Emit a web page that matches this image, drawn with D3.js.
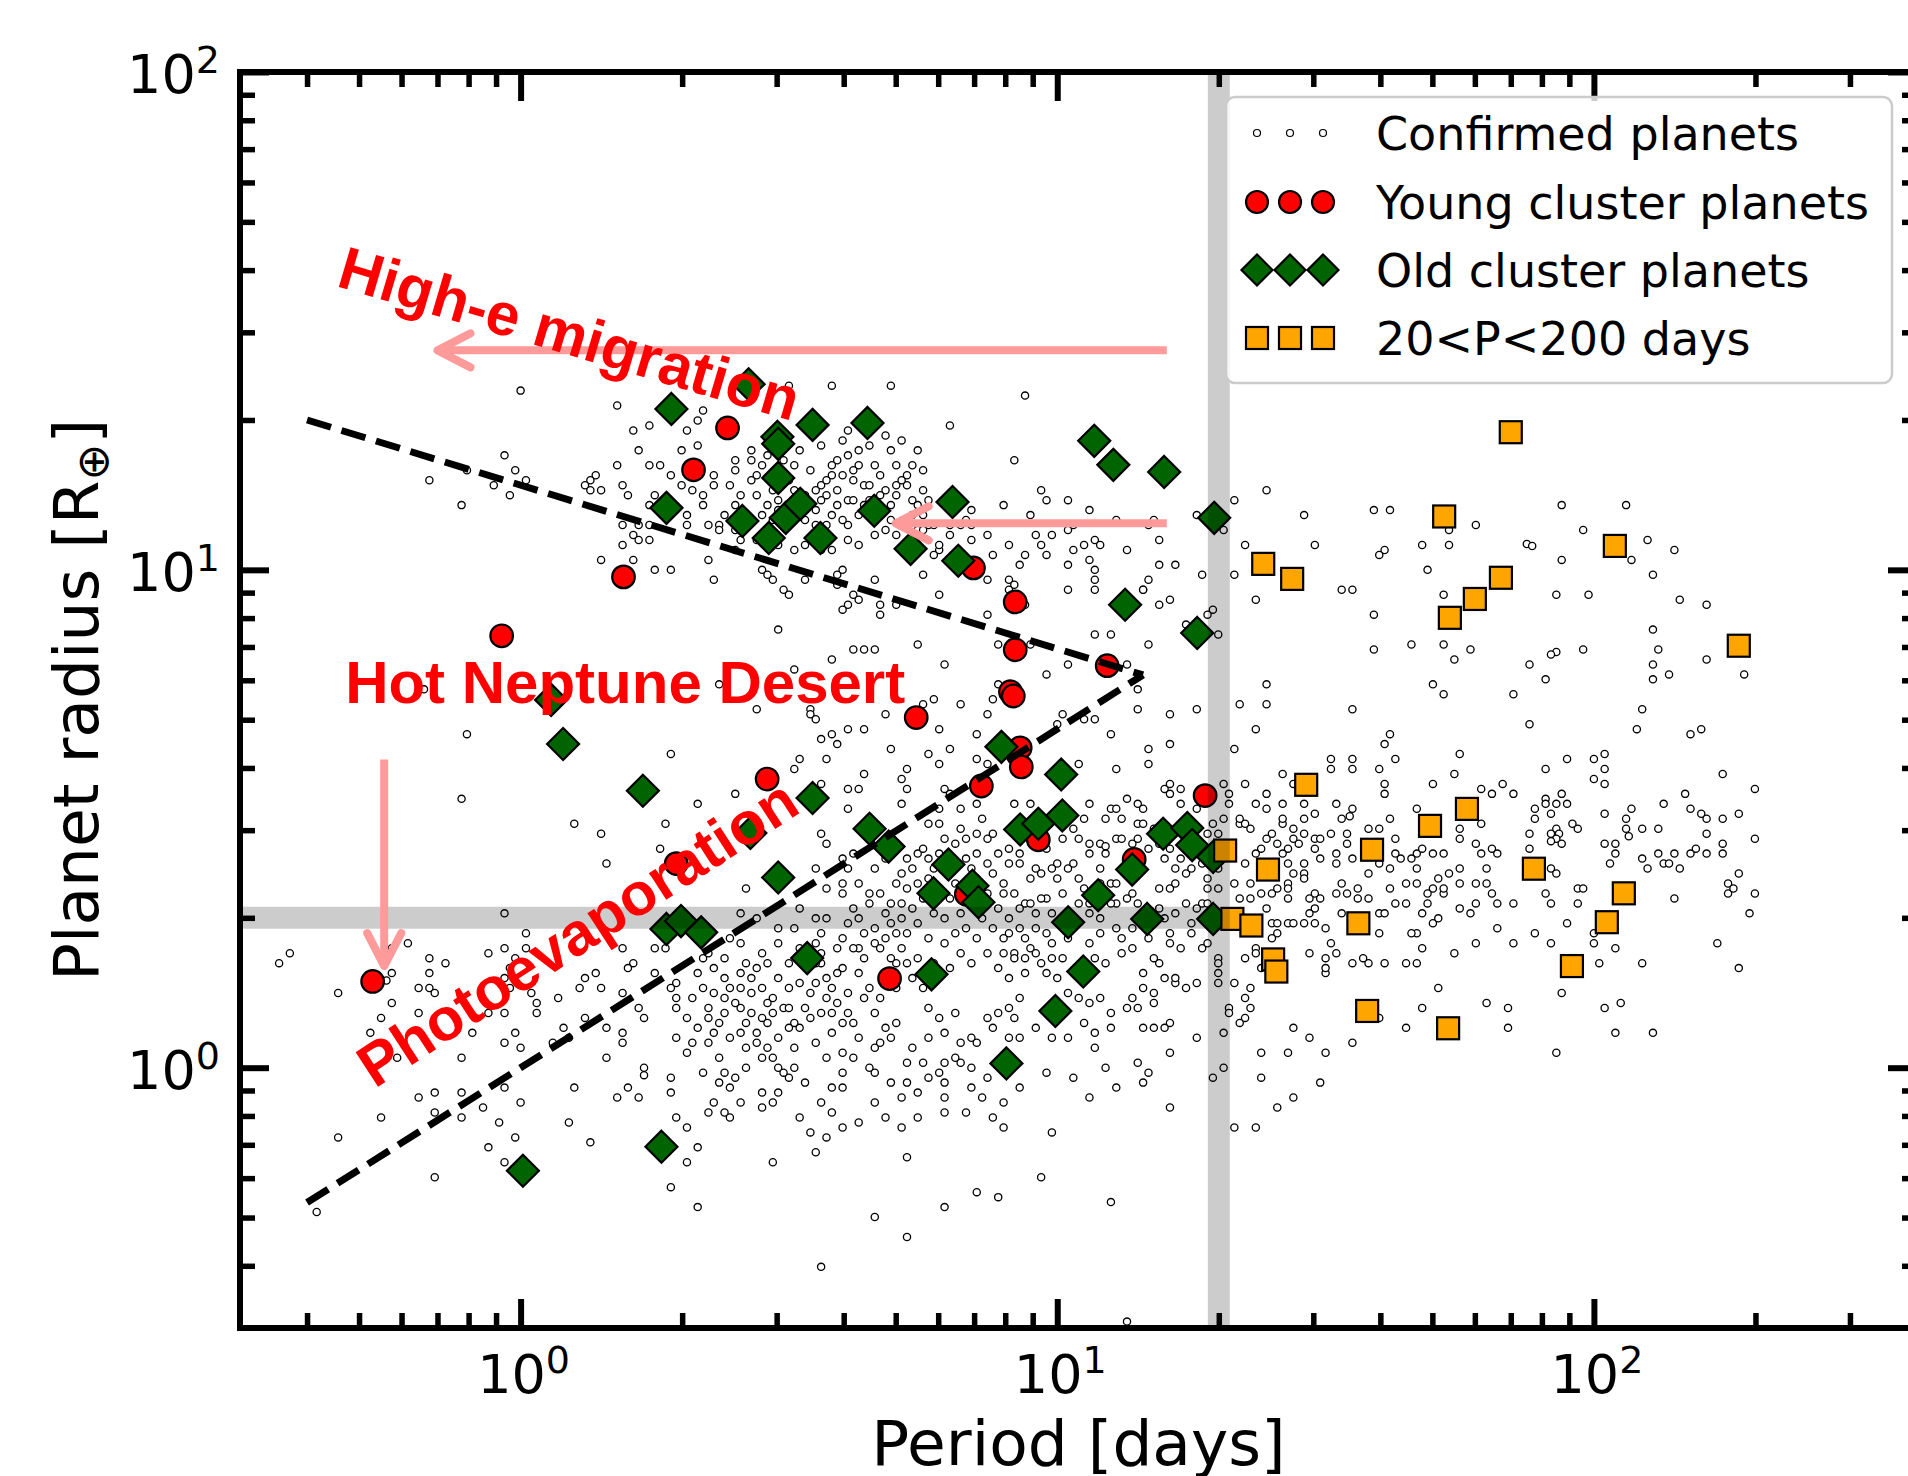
<!DOCTYPE html>
<html><head><meta charset="utf-8">
<script src="https://cdn.jsdelivr.net/npm/d3@7/dist/d3.min.js"></script>
<style>html,body{margin:0;padding:0;background:#fff;}svg{display:block;}</style>
</head><body>
<svg id="chart" width="1908" height="1476"></svg>
<script>
// ---------------- data ----------------
const xDomain = [0.3, 400];
const yDomain = [0.3, 100];
const xMajorTicks = [1, 10, 100];
const xMinorTicks = [0.4,0.5,0.6,0.7,0.8,0.9,2,3,4,5,6,7,8,9,20,30,40,50,60,70,80,90,200,300];
const yMajorTicks = [1, 10, 100];
const yMinorTicks = [0.4,0.5,0.6,0.7,0.8,0.9,2,3,4,5,6,7,8,9,20,30,40,50,60,70,80,90];
const tickExponents = ["0", "1", "2"];

const youngPeriod = [0.530,1.95,4.87,2.88,5.46,0.922,1.555,2.10,2.43,6.98,8.35,8.35,8.18,8.28,8.53,8.57,7.22,9.22,12.39,18.86,13.91,6.77];
const youngRadius = [1.49,2.57,1.51,3.80,5.05,7.37,9.68,15.88,19.28,10.09,8.62,6.91,5.69,5.58,4.39,4.02,3.68,2.87,6.42,3.52,2.62,2.23];

const oldPeriod = [2.66,1.91,3.50,4.43,3.01,3.02,3.02,11.72,12.72,1.87,2.59,3.12,3.32,2.90,3.62,4.56,6.38,5.33,6.54,15.82,19.61,13.38,18.23,1.14,1.20,7.87,10.17,1.69,3.50,2.68,4.47,4.85,8.53,9.22,10.22,3.02,6.27,5.88,6.95,7.13,13.79,11.92,1.87,1.99,2.17,10.48,3.42,5.83,11.18,9.92,8.04,1.83,1.01,15.75,17.47,17.84,19.52,14.71,19.52];
const oldRadius = [23.6,21.05,19.55,19.73,18.50,17.91,15.30,18.16,16.25,13.32,12.54,12.72,13.57,11.59,11.59,13.14,13.69,11.02,10.43,15.73,12.72,8.51,7.47,5.48,4.47,4.41,3.88,3.60,3.48,2.96,3.02,2.78,3.01,3.09,3.21,2.41,2.56,2.24,2.32,2.15,2.50,2.22,1.90,1.97,1.87,1.96,1.66,1.54,1.56,1.30,1.02,0.694,0.621,2.95,3.03,2.80,2.65,1.99,1.99];

const longPeriod = [70.0,52.6,24.2,27.4,67.1,60.0,53.9,109.4,186.2,29.1,20.55,24.7,38.6,49.5,58.0,21.2,23.0,36.4,25.25,25.6,37.8,53.5,77.3,113.7,105.7,91.0];
const longRadius = [18.9,12.8,10.28,9.59,9.64,8.74,8.01,11.17,7.04,3.70,2.73,2.50,2.74,3.06,3.31,1.99,1.93,1.95,1.65,1.56,1.30,1.20,2.51,2.24,1.96,1.60];

// confirmed planets as [log10(P/day), log10(R/R_earth)]
const confirmedLog = [
[0.00,1.36],[0.18,1.33],[0.50,1.37],[0.58,1.37],[0.69,1.37],[0.94,1.35],[0.80,1.29],[0.92,1.22],[0.21,1.28],[0.24,1.29],[0.22,1.24],[0.31,1.28],[0.33,1.25],[0.34,1.32],[0.30,1.24],[0.33,1.30],[0.24,1.21],[0.26,1.21],[0.18,1.21],[0.14,1.19],[0.13,1.18],[0.12,1.17],[0.13,1.16],[0.15,1.16],[0.19,1.17],[0.20,1.15],[0.25,1.15],[0.28,1.19],[0.30,1.17],[0.32,1.16],[0.36,1.19],[0.36,1.17],[0.34,1.15],[0.40,1.22],[0.43,1.22],[0.40,1.20],[0.43,1.24],[0.46,1.23],[0.45,1.21],[0.49,1.22],[0.51,1.21],[0.52,1.24],[0.56,1.25],[0.60,1.26],[0.61,1.28],[0.65,1.25],[0.68,1.27],[0.69,1.24],[0.71,1.26],[0.74,1.24],[0.70,1.21],[0.73,1.21],[0.75,1.20],[0.59,1.22],[0.61,1.23],[0.63,1.21],[0.62,1.20],[0.60,1.19],[0.58,1.19],[0.56,1.17],[0.55,1.16],[0.53,1.15],[0.57,1.15],[0.59,1.16],[0.62,1.18],[0.64,1.17],[0.67,1.19],[0.68,1.16],[0.70,1.17],[0.72,1.19],[0.72,1.17],[0.70,1.15],[0.69,1.13],[0.73,1.14],[0.75,1.16],[0.65,1.14],[0.61,1.14],[0.59,1.13],[0.64,1.13],[0.63,1.11],[0.61,1.09],[0.58,1.11],[0.57,1.09],[0.55,1.09],[0.53,1.10],[0.51,1.11],[0.48,1.12],[0.47,1.10],[0.45,1.11],[0.46,1.13],[0.44,1.15],[0.41,1.15],[0.40,1.13],[0.38,1.11],[0.37,1.09],[0.37,1.08],[0.40,1.08],[0.35,1.09],[0.34,1.13],[0.31,1.09],[0.31,1.11],[0.24,1.13],[0.24,1.09],[0.22,1.09],[0.19,1.09],[0.21,1.07],[0.19,1.05],[0.22,1.06],[0.24,1.06],[0.21,1.02],[0.15,1.02],[0.25,1.00],[0.28,1.00],[0.36,0.98],[0.35,1.02],[0.40,1.04],[0.41,1.06],[0.44,1.06],[0.48,1.05],[0.51,1.04],[0.53,1.05],[0.56,1.04],[0.58,1.04],[0.61,1.06],[0.63,1.05],[0.66,1.07],[0.68,1.08],[0.70,1.07],[0.74,1.08],[0.76,1.09],[0.78,1.04],[0.80,1.09],[0.82,1.09],[0.84,1.09],[0.84,1.06],[0.87,1.07],[0.88,1.03],[0.91,1.05],[0.94,1.03],[0.93,1.01],[0.97,1.16],[0.98,1.14],[0.95,1.11],[1.02,1.14],[1.06,1.12],[1.11,1.10],[0.96,1.07],[0.99,1.07],[0.97,1.05],[0.98,1.03],[1.02,1.08],[1.03,1.09],[1.03,1.04],[1.05,1.05],[1.07,1.06],[1.08,1.05],[1.13,1.04],[1.02,1.01],[1.06,1.02],[1.07,1.00],[1.07,0.98],[1.02,0.96],[0.90,1.13],[0.84,1.12],[0.83,1.10],[0.80,1.07],[0.78,1.05],[0.77,1.09],[0.75,1.11],[0.74,1.13],[0.72,1.09],[0.75,1.08],[0.74,1.05],[0.77,1.03],
[0.39,1.17],[0.42,1.10],[0.43,1.18],[0.47,1.16],[0.49,1.09],[0.50,1.18],[0.52,1.13],[0.54,1.20],[0.55,1.12],[0.57,1.18],[0.60,1.10],[0.62,1.14],[0.63,1.24],[0.66,1.11],[0.66,1.21],[0.67,1.15],[0.69,1.10],[0.71,1.18],[0.73,1.11],[0.76,1.14],[0.44,1.19],[0.48,1.14],[0.51,1.16],[0.56,1.14],[0.58,1.21],[0.65,1.17],
[0.45,1.00],[0.46,0.99],[0.47,0.98],[0.49,0.96],[0.50,0.95],[0.53,0.98],[0.59,0.99],[0.60,1.00],[0.59,0.97],[0.62,0.95],[0.61,0.93],[0.60,0.92],[0.63,0.94],[0.66,0.98],[0.67,0.93],[0.67,0.91],[0.70,0.93],[0.75,0.99],[0.78,0.95],[0.87,0.98],[0.87,0.91],[0.91,0.98],[0.92,0.97],[0.91,0.96],[0.94,0.93],[0.89,0.85],[0.92,0.85],[0.95,0.85],[1.07,0.87],[1.10,0.87],[1.02,0.81],[0.98,0.79],[0.79,0.81],[0.74,0.85],[0.66,0.84],[0.64,0.84],[0.62,0.84],[0.58,0.82],[0.51,0.80],[0.48,0.88],[0.37,0.77],[0.44,0.72],[0.54,0.72],[0.54,0.71],[0.55,0.70],[0.56,0.66],[0.58,0.67],[0.61,0.68],[0.64,0.68],[0.64,0.59],[0.69,0.64],[0.72,0.60],[0.71,0.58],[0.76,0.63],[0.78,0.61],[0.79,0.56],[0.78,0.68],[0.82,0.73],[0.77,0.74],[0.87,0.71],[0.87,0.61],[0.85,0.62],[0.85,0.67],[0.88,0.74],[0.89,0.77],[1.00,0.69],[1.01,0.71],[1.05,0.70],[1.07,0.70],[1.10,0.67],[1.11,0.60],[1.04,0.61],[1.15,0.76],[1.15,0.72],[1.13,0.81],[0.28,0.63],[0.51,0.60],[0.52,0.62],[0.57,0.62],[0.56,0.57],[0.61,0.56],[0.63,0.56],[0.59,0.65],[0.40,0.55],[-0.17,1.18],[-0.11,1.13],[-0.03,1.23],[-0.01,1.20],[-0.05,1.17],[-0.02,1.15],[0.01,1.18],[-0.10,1.20],[0.68,0.71],[0.75,0.73],[0.80,0.64],[0.80,0.55],[0.72,0.56],[1.07,0.96],[1.16,0.96],[-0.18,0.76],[-0.10,0.67],
[-0.11,0.54],[0.10,0.49],[0.15,0.47],[0.27,0.49],[0.26,0.44],[0.16,0.41],[0.33,0.53],[-0.03,0.31],[-0.21,0.25],[-0.24,0.24],[-0.24,0.19],[-0.25,0.175],[-0.45,0.21],[-0.43,0.23],[-0.34,0.15],[-0.26,0.10],[-0.28,0.07],[-0.24,0.13],[-0.19,0.16],[-0.17,0.19],[-0.17,0.22],[-0.14,0.21],[-0.17,0.16],[-0.16,0.15],[-0.19,0.11],[-0.23,0.02],[-0.11,0.02],[-0.09,0.07],[-0.06,0.11],[-0.03,0.11],[-0.06,0.23],[-0.03,0.24],[0.01,0.27],[0.01,0.24],[-0.01,0.22],[-0.02,0.20],[-0.03,0.18],[-0.02,0.16],[0.02,0.15],[0.03,0.13],[0.03,0.11],[-0.01,0.07],[-0.03,0.05],[0.00,0.04],[0.07,0.14],[0.11,0.16],[0.12,0.18],[0.14,0.19],[0.08,0.08],[0.12,0.10],[0.09,0.06],[0.06,0.05],[0.15,0.16],[0.19,0.24],[0.21,0.21],[0.20,0.20],[0.19,0.15],[0.22,0.12],[0.23,0.10],[0.16,0.08],[0.19,0.07],[0.19,0.05],[0.16,0.02],[0.25,0.24],[0.27,0.24],[0.25,0.19],[0.29,0.17],[0.28,0.16],[0.29,0.14],[0.29,0.12],[0.31,0.10],[0.29,0.06],[0.32,0.05],[0.23,0.00],[0.23,-0.015],[0.28,-0.02],[0.28,-0.05],[0.22,-0.06],[0.20,-0.04],[0.18,-0.06],[0.09,-0.11],[0.10,-0.04],[0.13,-0.15],[-0.01,-0.14],[0.00,-0.07],[-0.03,-0.19],[-0.06,-0.16],[-0.04,-0.11],[-0.07,-0.08],[-0.11,-0.10],[-0.11,-0.05],[-0.16,-0.09],[-0.16,-0.22],[-0.19,-0.06],[-0.16,-0.05],[-0.26,-0.10],[-0.34,-0.14],[-0.38,-0.29],[-0.03,-0.04],[0.28,-0.24],[0.31,-0.19],[0.33,-0.16],[0.31,-0.12],[0.33,-0.28],[0.29,-0.10],[0.35,-0.09],[0.37,-0.03],[0.38,-0.01],[0.39,-0.04],[0.36,-0.07],[0.38,-0.09],[0.39,-0.10],[0.45,-0.05],[0.48,-0.05],[0.47,-0.07],[0.47,-0.19],[0.56,-0.40],[0.50,-0.02],[0.51,0.00],[0.45,0.02],[0.47,0.02],[0.42,0.04],[0.44,0.05],[0.41,0.07],[0.42,0.09],[0.38,0.11],[0.37,0.09],[0.36,0.07],[0.35,0.10],[0.35,0.12],[0.41,0.12],[0.43,0.11],[0.45,0.10],[0.46,0.09],[0.47,0.11],[0.49,0.12],[0.51,0.09],[0.50,0.08],[0.47,0.14],[0.50,0.16],[0.45,0.16],[0.43,0.18],[0.41,0.16],[0.39,0.16],[0.38,0.14],[0.41,0.19],[0.36,0.20],[0.33,0.19],[0.34,0.16],[0.34,0.22],[0.35,0.23],[0.38,0.22],[0.42,0.21],[0.45,0.23],[0.46,0.21],[0.48,0.25],[0.50,0.21],[0.52,0.24],[0.51,0.28],[0.48,0.28],[0.41,0.31],[0.44,0.30],[0.39,0.26],[0.41,0.25],[0.42,0.36],[0.52,0.32],[0.55,0.30],[0.57,0.30],[0.60,0.37],[0.57,0.36],[0.61,0.40],[0.63,0.37],[0.66,0.40],[0.68,0.42],[0.65,0.35],[0.62,0.32],[0.60,0.35],[0.61,0.29],[0.64,0.27],[0.60,0.26],[0.56,0.27],[0.55,0.25],[0.53,0.22],[0.56,0.23],[0.59,0.24],[0.63,0.24],[0.66,0.25],[0.68,0.26],[0.69,0.29],[0.69,0.33],[0.71,0.33],[0.72,0.36],[0.74,0.37],[0.77,0.40],[0.71,0.39],[0.72,0.42],[0.74,0.43],[0.76,0.42],[0.78,0.49],[0.81,0.45],[0.83,0.42],[0.83,0.46],[0.85,0.43],[0.87,0.46],[0.89,0.43],[0.88,0.39],[0.85,0.47],[0.85,0.53],[0.82,0.52],[0.71,0.53],[0.76,0.49],[0.78,0.52],[0.61,0.52],[0.56,0.47],[0.57,0.45],[0.60,0.42],[0.62,0.43],[0.55,0.40],[0.70,0.21],[0.72,0.21],[0.73,0.18],[0.75,0.16],[0.70,0.16],[0.67,0.14],[0.66,0.11],[0.68,0.08],[0.69,0.06],[0.66,0.04],[0.63,0.06],[0.61,0.11],[0.60,0.09],[0.59,0.13],[0.58,0.16],[0.55,0.17],[0.57,0.18],[0.56,0.21],[0.60,0.20],[0.63,0.19],[0.65,0.16],[0.64,0.14],[0.76,0.12],[0.78,0.10],[0.81,0.11],[0.79,0.07],[0.82,0.05],[0.84,0.06],[0.85,0.05],[0.87,0.10],[0.89,0.11],[0.88,0.08],[1.09,0.00],[1.11,-0.04],[1.06,-0.06],[1.03,-0.02],[0.98,-0.01],[0.99,-0.13],[0.97,-0.22],[1.10,-0.27],[0.85,-0.25],[0.89,-0.26],[0.79,-0.28],[0.66,-0.30],[0.72,-0.34],[0.55,-0.17],[0.54,-0.13],[0.72,-0.18],[0.68,-0.10],[0.71,-0.12],[0.74,-0.10],[0.66,-0.07],[0.63,-0.11],[0.60,-0.12],[0.58,-0.09],[0.56,-0.07],[0.60,-0.04],[0.60,-0.01],[0.62,0.02],[0.66,-0.01],[0.69,-0.03],[0.72,0.01],[0.75,0.01],[0.79,0.01],[0.82,0.01],[0.79,-0.03],[0.79,-0.06],[0.84,-0.04],[0.86,-0.06],[0.88,-0.10],[0.90,-0.12],[0.90,-0.07],[0.93,-0.04],[0.87,-0.02],[0.83,-0.09],[0.79,-0.09],[0.74,-0.05],[0.72,-0.03],[0.76,-0.02],[1.15,0.01],[0.57,-0.14],[0.48,0.00],[0.53,0.12],[0.54,0.10],[0.58,0.11],[1.13,-0.51],
[0.63,0.30],[0.64,0.22],[0.65,0.33],[0.66,0.28],[0.67,0.24],[0.67,0.35],[0.68,0.31],[0.69,0.22],[0.70,0.27],[0.70,0.37],[0.71,0.24],[0.71,0.30],[0.72,0.27],[0.73,0.32],[0.73,0.40],[0.74,0.22],[0.74,0.29],[0.75,0.34],[0.75,0.44],[0.76,0.26],[0.76,0.38],[0.77,0.31],[0.77,0.21],[0.78,0.35],[0.78,0.43],[0.79,0.25],[0.79,0.30],[0.79,0.46],[0.80,0.20],[0.80,0.34],[0.80,0.40],[0.81,0.27],[0.81,0.37],[0.82,0.23],[0.82,0.31],[0.82,0.48],[0.83,0.35],[0.83,0.28],[0.84,0.40],[0.84,0.21],[0.84,0.33],[0.85,0.26],[0.85,0.38],[0.86,0.30],[0.86,0.50],[0.87,0.23],[0.87,0.35],[0.87,0.41],[0.88,0.28],[0.88,0.47],[0.89,0.32],[0.89,0.20],[0.90,0.26],[0.90,0.37],[0.91,0.44],[0.91,0.30],[0.92,0.23],[0.92,0.35],[0.93,0.28],[0.93,0.48],[0.94,0.33],[0.95,0.24],[0.95,0.38],[0.96,0.28],[0.97,0.45],[0.98,0.34],[0.99,0.25],[1.00,0.41],[0.97,0.21],
[0.31,0.03],[0.32,0.14],[0.33,0.08],[0.34,-0.01],[0.35,0.05],[0.36,0.15],[0.37,0.02],[0.38,0.18],[0.39,0.06],[0.40,0.13],[0.40,-0.02],[0.42,0.00],[0.43,0.15],[0.44,0.07],[0.44,0.20],[0.46,0.04],[0.46,0.13],[0.48,0.18],[0.48,0.06],[0.49,-0.01],[0.50,0.12],[0.51,0.04],[0.52,0.17],[0.52,0.08],[0.53,-0.03],[0.54,0.15],[0.55,0.05],[0.55,0.21],[0.56,0.11],[0.57,0.02],[0.57,0.14],[0.58,0.07],[0.59,0.19],[0.60,0.03],[0.61,0.15],[0.62,0.09],[0.62,0.24],[0.45,-0.08],[0.52,-0.10],[0.58,-0.04],[0.41,-0.07],[0.65,0.00],[0.67,0.05],[0.70,0.09],[0.73,0.04],[0.71,-0.06],[0.76,0.06],[0.78,-0.01],[0.81,0.02],[0.84,0.00],
[0.92,0.53],[0.95,0.53],[1.06,0.53],[1.10,0.52],[1.11,0.52],[1.13,0.54],[1.15,0.53],[1.05,0.50],[1.03,0.48],[1.09,0.50],[1.12,0.50],[0.98,0.44],[1.01,0.46],[1.04,0.46],[1.06,0.45],[1.08,0.45],[1.09,0.445],[1.06,0.43],[1.09,0.43],[1.11,0.46],[1.12,0.46],[1.14,0.45],[1.15,0.46],[1.15,0.49],[0.93,0.43],[0.91,0.41],[0.93,0.41],[0.96,0.40],[0.97,0.39],[0.99,0.40],[1.00,0.38],[1.02,0.40],[1.03,0.41],[1.04,0.38],[1.05,0.36],[1.08,0.40],[1.08,0.37],[1.10,0.37],[1.11,0.37],[1.11,0.33],[1.13,0.34],[1.14,0.35],[1.15,0.33],[1.10,0.33],[1.06,0.33],[1.04,0.33],[1.01,0.35],[0.97,0.34],[0.95,0.33],[0.93,0.32],[0.90,0.35],[0.96,0.31],[0.99,0.31],[1.06,0.31],[1.08,0.30],[1.11,0.28],[1.14,0.28],[0.91,0.27],[0.94,0.26],[0.98,0.27],[1.02,0.26],[1.06,0.25],[1.08,0.27],[1.12,0.26],[1.14,0.24],[0.90,0.23],[0.92,0.22],[0.94,0.22],[0.96,0.23],[0.99,0.22],[1.01,0.22],[1.07,0.22],[1.09,0.21],[1.12,0.23],[0.91,0.18],[0.94,0.19],[0.98,0.19],[1.00,0.18],[1.02,0.15],[1.04,0.14],[1.06,0.13],[1.08,0.14],[1.10,0.11],[1.13,0.12],[1.15,0.12],[1.14,0.14],[0.91,0.12],[0.93,0.14],[0.92,0.10],[0.96,0.08],[0.99,0.06],[1.02,0.06],[1.05,0.09],[1.07,0.07],[1.07,0.04],[1.10,0.08],[0.91,0.06],[0.93,0.06],
[1.20,0.56],[1.21,0.57],[1.21,0.55],[1.23,0.56],[1.31,0.57],[1.32,0.55],[1.32,0.53],[1.35,0.57],[1.39,0.55],[1.37,0.53],[1.39,0.52],[1.42,0.53],[1.44,0.57],[1.46,0.53],[1.46,0.50],[1.48,0.51],[1.52,0.53],[1.55,0.52],[1.545,0.505],[1.53,0.50],[1.61,0.57],[1.61,0.55],[1.62,0.50],[1.67,0.52],[1.70,0.57],[1.81,0.55],[1.79,0.56],[1.85,0.55],[1.83,0.57],[1.79,0.49],[1.75,0.48],[1.75,0.46],[1.78,0.45],[1.81,0.44],[1.82,0.43],[1.79,0.43],[1.80,0.40],[1.75,0.40],[1.75,0.37],[1.78,0.37],[1.80,0.37],[1.81,0.35],[1.82,0.33],[1.85,0.33],[1.78,0.33],[1.77,0.31],[1.75,0.32],[1.73,0.39],[1.72,0.35],[1.71,0.38],[1.72,0.36],[1.70,0.36],[1.70,0.43],[1.72,0.43],[1.69,0.35],[1.69,0.33],[1.68,0.31],[1.70,0.29],[1.71,0.30],[1.67,0.27],[1.66,0.27],[1.68,0.24],[1.74,0.23],[1.78,0.25],[1.85,0.25],[1.82,0.28],[1.84,0.12],[1.84,0.08],[1.80,0.13],[1.68,0.12],[1.71,0.16],[1.65,0.08],[1.65,0.21],[1.67,0.21],[1.61,0.21],[1.58,0.21],[1.57,0.22],[1.55,0.21],[1.60,0.27],[1.65,0.33],[1.63,0.33],[1.62,0.36],[1.65,0.37],[1.67,0.37],[1.67,0.40],[1.67,0.43],[1.68,0.44],[1.66,0.42],[1.64,0.42],[1.63,0.43],[1.63,0.46],[1.62,0.40],[1.60,0.41],[1.58,0.39],[1.60,0.48],[1.58,0.48],[1.55,0.42],[1.54,0.47],[1.54,0.45],[1.52,0.41],[1.51,0.47],[1.52,0.43],[1.56,0.36],[1.53,0.37],[1.54,0.35],[1.52,0.35],[1.56,0.34],[1.58,0.34],[1.53,0.31],[1.60,0.31],[1.61,0.31],[1.49,0.42],[1.48,0.44],[1.48,0.46],[1.49,0.46],[1.46,0.47],[1.44,0.46],[1.44,0.48],[1.45,0.45],[1.46,0.41],[1.46,0.39],[1.44,0.39],[1.43,0.41],[1.43,0.44],[1.41,0.45],[1.42,0.49],[1.42,0.50],[1.40,0.47],[1.39,0.46],[1.38,0.44],[1.37,0.43],[1.42,0.43],[1.43,0.37],[1.46,0.38],[1.47,0.34],[1.48,0.35],[1.49,0.34],[1.48,0.32],[1.43,0.34],[1.43,0.36],[1.40,0.35],[1.41,0.36],[1.38,0.35],[1.39,0.32],[1.36,0.34],[1.36,0.37],[1.33,0.37],[1.35,0.41],[1.34,0.34],[1.40,0.29],[1.41,0.29],[1.43,0.29],[1.44,0.29],[1.46,0.29],[1.47,0.31],[1.48,0.29],[1.50,0.28],[1.47,0.23],[1.50,0.19],[1.50,0.20],[1.51,0.25],[1.52,0.23],[1.50,0.22],[1.41,0.27],[1.37,0.24],[1.37,0.23],[1.35,0.22],[1.40,0.26],[1.38,0.20],[1.36,0.16],[1.35,0.14],[1.36,0.12],[1.35,0.10],[1.34,0.09],[1.33,0.17],[1.32,0.12],[1.32,0.11],[1.31,0.07],[1.31,0.00],[1.29,-0.02],[1.38,0.03],[1.38,-0.02],[1.43,0.03],[1.44,0.08],[1.47,0.06],[1.50,0.03],[1.55,0.05],[1.49,-0.03],[1.44,-0.06],[1.41,-0.08],[1.33,-0.12],[1.37,-0.12],[1.60,0.10],[1.21,-0.08],[1.26,0.06],[1.21,0.03],[1.17,-0.01],[1.16,-0.03],[1.21,0.09],[1.20,0.08],[1.18,0.08],[1.16,0.08],[1.30,0.17],[1.26,0.17],[1.24,0.16],[1.22,0.17],[1.22,0.18],[1.20,0.18],[1.19,0.21],[1.18,0.15],[1.18,0.13],[1.16,0.19],[1.16,0.16],[1.18,0.22],[1.17,0.26],[1.21,0.25],[1.21,0.27],[1.23,0.24],[1.25,0.27],[1.27,0.24],[1.28,0.25],[1.30,0.22],[1.30,0.21],[1.30,0.19],[1.25,0.29],[1.27,0.33],[1.28,0.33],[1.26,0.32],[1.24,0.33],[1.22,0.31],[1.20,0.30],[1.19,0.32],[1.19,0.36],[1.21,0.36],[1.22,0.37],[1.24,0.39],[1.22,0.40],[1.20,0.42],[1.23,0.42],[1.25,0.40],[1.27,0.41],[1.28,0.38],[1.28,0.36],[1.30,0.36],[1.30,0.40],[1.28,0.47],[1.29,0.49],[1.30,0.47],[1.31,0.50],[1.25,0.49],[1.24,0.50],[1.22,0.48],[1.19,0.45],[1.21,0.44],[1.17,0.44],[1.16,0.49],[1.16,0.52],[1.18,0.48],[1.23,0.53],[1.26,0.52],[1.34,0.49],[1.35,0.49],[1.34,0.50],[1.36,0.48],
[1.19,1.06],[1.18,1.10],[1.17,1.09],[1.19,1.01],[1.22,1.01],[1.17,0.98],[1.16,0.96],[1.21,0.94],[1.19,0.93],[1.17,0.85],[1.26,1.11],[1.33,1.14],[1.31,1.08],[1.27,0.99],[1.29,0.92],[1.28,0.91],[1.24,0.89],[1.30,0.87],[1.39,1.16],[1.46,1.11],[1.35,1.05],[1.33,0.99],[1.48,1.05],[1.37,0.94],[1.53,0.96],[1.55,0.96],[1.59,1.12],[1.62,1.12],[1.61,1.04],[1.60,1.03],[1.59,0.91],[1.68,1.05],[1.73,1.05],[1.69,1.00],[1.73,1.08],[1.78,1.09],[1.72,0.95],[1.72,0.85],[1.77,0.84],[1.74,0.82],[1.66,0.85],[1.59,0.84],[1.70,0.77],[1.72,0.75],[1.39,0.77],[1.39,0.73],[1.34,0.73],[1.37,0.68],[1.33,0.64],[1.55,0.72],[1.62,0.67],[1.61,0.65],[1.63,0.62],[1.55,0.62],[1.51,0.62],[1.51,0.60],[1.55,0.60],[1.60,0.60],[1.42,0.59],[1.75,0.63],[1.74,0.59],[1.17,0.64],[1.21,0.65],[1.17,0.61],[1.21,0.71],[1.26,0.72],
[1.94,1.13],[2.06,1.13],[1.98,1.08],[1.875,1.052],[1.885,1.048],[1.94,1.02],[2.10,1.06],[2.15,1.04],[2.07,1.02],[2.11,0.99],[1.93,0.95],[1.99,0.95],[2.16,0.94],[2.21,0.93],[2.11,0.88],[1.93,0.835],[1.92,0.83],[1.98,0.84],[2.12,0.84],[2.11,0.81],[2.11,0.78],[2.14,0.79],[2.21,0.82],[2.28,0.79],[1.88,0.81],[1.91,0.78],[1.85,0.75],[1.88,0.69],[2.09,0.72],[2.08,0.68],[2.18,0.67],[2.20,0.68],[1.95,0.62],[2.00,0.62],[2.02,0.63],[2.02,0.60],[2.00,0.58],[1.91,0.60],[2.24,0.59],
[2.30,0.56],[2.02,0.57],[1.91,0.54],[1.91,0.53],[1.94,0.55],[1.93,0.53],[1.95,0.53],[1.89,0.52],[1.89,0.50],[1.92,0.51],[1.88,0.47],[1.92,0.47],[1.93,0.48],[1.935,0.47],[1.93,0.46],[1.92,0.455],[1.94,0.45],[1.96,0.49],[1.97,0.48],[1.88,0.44],[1.92,0.40],[1.93,0.39],[1.91,0.35],[1.92,0.33],[1.97,0.36],[1.98,0.36],[1.97,0.33],[1.95,0.29],[1.89,0.27],[1.92,0.25],[2.00,0.25],[2.00,0.27],[2.04,0.24],[2.01,0.21],[2.09,0.21],[2.02,0.51],[2.06,0.50],[2.07,0.52],[2.02,0.45],[2.04,0.45],[2.04,0.43],[2.03,0.41],[2.06,0.48],[2.065,0.465],[2.09,0.48],[2.09,0.42],[2.10,0.40],[2.12,0.48],[2.13,0.53],[2.12,0.43],[2.13,0.41],[2.14,0.41],[2.15,0.43],[2.16,0.40],[2.17,0.55],[2.18,0.52],[2.20,0.51],[2.21,0.50],[2.21,0.47],[2.19,0.44],[2.18,0.43],[2.21,0.43],[2.24,0.43],[2.24,0.45],[2.24,0.50],[2.27,0.51],[2.30,0.46],[2.27,0.39],[2.25,0.37],[2.25,0.35],[2.26,0.36],[2.30,0.35],[2.29,0.31],[2.15,0.34],[2.23,0.25],[2.27,0.20],[1.94,0.15],[2.02,0.12],[2.05,0.13],[2.04,0.07],[2.11,0.07],[1.93,0.03]
];

// hot-Neptune desert boundaries [P, R]
const desertUpper = [[0.4, 20.0], [14.45, 6.15]];
const desertLower = [[0.4, 0.536], [14.45, 6.15]];
const bandPeriod = 20;   // vertical grey band
const bandRadius = 2;    // horizontal grey band (from left edge to P = 20)

const arrows = [
  {from: [16, 27.6], to: [0.70, 27.6]},
  {from: [16, 12.4], to: [5.0, 12.4]},
  {from: [0.557, 4.16], to: [0.557, 1.60]}
];
const annotations = [
  {text: "High-e migration", P: 0.451, R: 37.2, angle: 16.5},
  {text: "Hot Neptune Desert", P: 0.471, R: 5.40, angle: 0},
  {text: "Photoevaporation", P: 0.535, R: 0.906, angle: -33}
];
const legendLabels = ["Confirmed planets", "Young cluster planets", "Old cluster planets", "20<P<200 days"];
const xLabel = "Period [days]";
const yLabel = ["Planet radius [R", "\u2295", "]"];

// ---------------- drawing ----------------
const svg = d3.select("#chart");
const L = 240, R = 1917, T = 72, B = 1328;
const x = d3.scaleLog().domain(xDomain).range([L, R]);
const y = d3.scaleLog().domain(yDomain).range([B, T]);

svg.append("rect").attr("width", 1908).attr("height", 1476).attr("fill", "#fff");
svg.append("clipPath").attr("id", "plotclip").append("rect")
  .attr("x", L).attr("y", T).attr("width", R - L).attr("height", B - T);
const plot = svg.append("g").attr("clip-path", "url(#plotclip)");

// confirmed planets
plot.append("g").selectAll("circle").data(confirmedLog).join("circle")
  .attr("cx", d => x(Math.pow(10, d[0]))).attr("cy", d => y(Math.pow(10, d[1])))
  .attr("r", 3.6).attr("fill", "#fff").attr("stroke", "#000").attr("stroke-width", 1.3);

// young cluster planets
plot.append("g").selectAll("circle").data(youngPeriod.map((p, i) => [p, youngRadius[i]])).join("circle")
  .attr("cx", d => x(d[0])).attr("cy", d => y(d[1]))
  .attr("r", 11.3).attr("fill", "#ff0000").attr("stroke", "#000").attr("stroke-width", 2.2);

// old cluster planets (diamonds)
const diamond = h => `M0,${-h}L${h},0L0,${h}L${-h},0Z`;
plot.append("g").selectAll("path").data(oldPeriod.map((p, i) => [p, oldRadius[i]])).join("path")
  .attr("d", diamond(16)).attr("transform", d => `translate(${x(d[0])},${y(d[1])})`)
  .attr("fill", "#006400").attr("stroke", "#000").attr("stroke-width", 2.2).attr("stroke-linejoin", "miter");

// 20<P<200 days (squares)
plot.append("g").selectAll("rect").data(longPeriod.map((p, i) => [p, longRadius[i]])).join("rect")
  .attr("x", d => x(d[0]) - 11).attr("y", d => y(d[1]) - 11).attr("width", 22).attr("height", 22)
  .attr("fill", "#ffa500").attr("stroke", "#000").attr("stroke-width", 2.2);

// grey bands (black, alpha 0.2, drawn above markers)
plot.append("line").attr("x1", x(bandPeriod)).attr("x2", x(bandPeriod)).attr("y1", T).attr("y2", B)
  .attr("stroke", "#000").attr("stroke-opacity", 0.2).attr("stroke-width", 22);
plot.append("line").attr("x1", x(xDomain[0])).attr("x2", x(bandPeriod) - 11).attr("y1", y(bandRadius)).attr("y2", y(bandRadius))
  .attr("stroke", "#000").attr("stroke-opacity", 0.2).attr("stroke-width", 22);

// desert boundaries
const line = d3.line().x(d => x(d[0])).y(d => y(d[1]));
[desertUpper, desertLower].forEach(seg => {
  plot.append("path").attr("d", line(seg)).attr("fill", "none").attr("stroke", "#000")
    .attr("stroke-width", 7).attr("stroke-dasharray", "25,11");
});

// arrows
const pink = "#ff9a9a";
arrows.forEach(a => {
  const x0 = x(a.from[0]), y0 = y(a.from[1]), x1 = x(a.to[0]), y1 = y(a.to[1]);
  const len = Math.hypot(x0 - x1, y0 - y1), ux = (x0 - x1) / len, uy = (y0 - y1) / len;
  const nx = -uy, ny = ux, hl = 33, hw = 17;
  plot.append("line").attr("x1", x0).attr("y1", y0).attr("x2", x1 + ux * 3).attr("y2", y1 + uy * 3)
    .attr("stroke", pink).attr("stroke-width", 8);
  plot.append("path")
    .attr("d", `M${x1 + ux * hl + nx * hw},${y1 + uy * hl + ny * hw}L${x1},${y1}L${x1 + ux * hl - nx * hw},${y1 + uy * hl - ny * hw}`)
    .attr("fill", "none").attr("stroke", pink).attr("stroke-width", 8)
    .attr("stroke-linejoin", "round").attr("stroke-linecap", "round");
});

// red annotations
annotations.forEach(a => {
  svg.append("text").attr("transform", `translate(${x(a.P)},${y(a.R)}) rotate(${a.angle})`)
    .attr("font-family", "'Liberation Sans', Arial, Helvetica, sans-serif").attr("font-weight", "bold")
    .attr("font-size", 60).attr("fill", "#ff0000").text(a.text);
});

// ---------------- axes ----------------
function styleTicks(g, w) {
  g.select(".domain").remove();
  g.selectAll(".tick line").attr("stroke", "#000").attr("stroke-width", w);
}
const axes = [
  [d3.axisBottom(x), `translate(0,${B})`],
  [d3.axisTop(x), `translate(0,${T})`],
  [d3.axisLeft(y), `translate(${L},0)`],
  [d3.axisRight(y), `translate(${R},0)`]
];
axes.forEach(([gen, tr], i) => {
  const isX = i < 2;
  svg.append("g").attr("transform", tr)
    .call(gen.tickValues(isX ? xMinorTicks : yMinorTicks).tickSize(-15).tickSizeOuter(0).tickFormat(""))
    .call(g => styleTicks(g, 5.5));
  svg.append("g").attr("transform", tr)
    .call(gen.tickValues(isX ? xMajorTicks : yMajorTicks).tickSize(-29).tickSizeOuter(0).tickFormat(""))
    .call(g => styleTicks(g, 6));
});
svg.append("rect").attr("x", L).attr("y", T).attr("width", R - L).attr("height", B - T)
  .attr("fill", "none").attr("stroke", "#000").attr("stroke-width", 6);

const tickFont = "'DejaVu Sans', sans-serif";
xMajorTicks.forEach((v, i) => {
  const t = svg.append("text").attr("x", x(v) + 3).attr("y", 1393).attr("text-anchor", "middle")
    .attr("font-family", tickFont).attr("font-size", 54).attr("fill", "#000");
  t.append("tspan").text("10");
  t.append("tspan").attr("dy", -20).attr("font-size", 38).text(tickExponents[i]);
});
yMajorTicks.forEach((v, i) => {
  const t = svg.append("text").attr("x", 220).attr("y", y(v) + 21).attr("text-anchor", "end")
    .attr("font-family", tickFont).attr("font-size", 54).attr("fill", "#000");
  t.append("tspan").text("10");
  t.append("tspan").attr("dy", -20).attr("font-size", 38).text(tickExponents[i]);
});

svg.append("text").attr("x", (L + R) / 2).attr("y", 1465).attr("text-anchor", "middle")
  .attr("font-family", tickFont).attr("font-size", 63).attr("fill", "#000").text(xLabel);
const yl = svg.append("text").attr("transform", `translate(98,${(T + B) / 2}) rotate(-90)`)
  .attr("text-anchor", "middle").attr("font-family", tickFont).attr("font-size", 63).attr("fill", "#000");
yl.append("tspan").text(yLabel[0]);
yl.append("tspan").attr("dy", 10).attr("font-size", 44).text(yLabel[1]);
yl.append("tspan").attr("dy", -10).attr("font-size", 63).text(yLabel[2]);

// ---------------- legend ----------------
const lg = svg.append("g");
lg.append("rect").attr("x", 1226).attr("y", 97).attr("width", 666).attr("height", 286).attr("rx", 9)
  .attr("fill", "#fff").attr("fill-opacity", 0.8).attr("stroke", "#cccccc").attr("stroke-width", 2.5);
const rowY = [133, 202, 270, 338], markX = [1257, 1290, 1323];
legendLabels.forEach((lab, i) => {
  markX.forEach(mx => {
    if (i === 0) lg.append("circle").attr("cx", mx).attr("cy", rowY[i]).attr("r", 3.5)
      .attr("fill", "#fff").attr("stroke", "#000").attr("stroke-width", 1.2);
    if (i === 1) lg.append("circle").attr("cx", mx).attr("cy", rowY[i]).attr("r", 11)
      .attr("fill", "#ff0000").attr("stroke", "#000").attr("stroke-width", 2.2);
    if (i === 2) lg.append("path").attr("d", diamond(15.5)).attr("transform", `translate(${mx},${rowY[i]})`)
      .attr("fill", "#006400").attr("stroke", "#000").attr("stroke-width", 2.2);
    if (i === 3) lg.append("rect").attr("x", mx - 11).attr("y", rowY[i] - 11).attr("width", 22).attr("height", 22)
      .attr("fill", "#ffa500").attr("stroke", "#000").attr("stroke-width", 2.2);
  });
  lg.append("text").attr("x", 1376).attr("y", rowY[i] + 16.5).attr("font-family", tickFont)
    .attr("font-size", 46).attr("fill", "#000").text(lab);
});
</script>
</body></html>
